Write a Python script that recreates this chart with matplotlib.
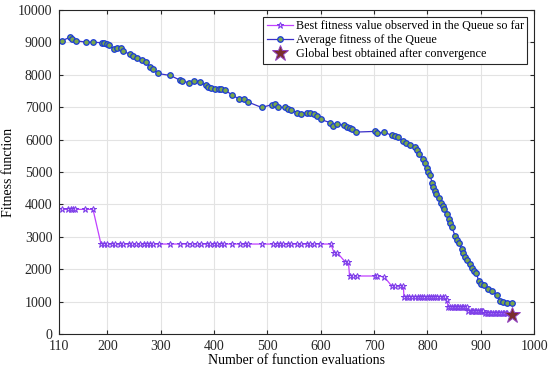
import matplotlib
matplotlib.use('Agg')
import matplotlib.pyplot as plt

# Average fitness of the queue
avg_x = [114, 129, 134, 141, 160, 173, 189, 194, 199, 203, 212, 218, 225, 229, 243, 248,
         256, 264, 273, 279, 286, 294, 318, 336, 339, 353, 363, 374, 385, 389, 395, 401,
         409, 413, 421, 433, 446, 456, 464, 489, 508, 514, 520, 533, 539, 545, 556, 563,
         574, 580, 588, 593, 600, 618, 623, 631, 644, 649, 654, 659, 666, 701, 706, 719,
         733, 740, 744, 755, 759, 768, 777, 780, 784, 791, 795, 799, 802, 805, 809, 811,
         814, 817, 821, 825, 830, 832, 836, 840, 842, 846, 852, 856, 860, 864, 867, 871,
         875, 879, 884, 887, 892, 896, 901, 906, 914, 922, 931, 936, 942, 950, 958]
avg_y = [9050, 9155, 9094, 9052, 9011, 9011, 8991, 8970, 8950, 8908, 8805, 8826, 8826, 8723, 8641, 8579,
         8517, 8456, 8394, 8250, 8188, 8044, 7982, 7838, 7818, 7756, 7818, 7777, 7674, 7612, 7591, 7550,
         7550, 7550, 7530, 7386, 7262, 7262, 7160, 6995, 7077, 7098, 6995, 6995, 6954, 6913, 6830, 6789,
         6830, 6810, 6789, 6727, 6625, 6522, 6419, 6481, 6440, 6398, 6357, 6316, 6234, 6254, 6193, 6234,
         6131, 6110, 6069, 5946, 5905, 5822, 5760, 5678, 5555, 5411, 5267, 5123, 4999, 4917, 4650, 4526,
         4423, 4320, 4197, 4032, 3950, 3847, 3703, 3559, 3436, 3292, 3024, 2901, 2798, 2633, 2510, 2386,
         2284, 2160, 2037, 1934, 1893, 1625, 1543, 1502, 1399, 1317, 1214, 1029, 988, 967, 946]

# Best fitness value observed in the queue so far
best_x = [114, 127, 131, 135, 139, 158, 173,
          188, 194, 200, 208, 214, 224, 230, 241, 246, 254, 261, 268, 275, 280, 286, 296,
          318, 336, 349, 358, 368, 375, 386, 393, 400, 405, 413, 419, 433, 449, 458, 464,
          489, 511, 518, 524, 530, 538, 544, 555, 563, 574, 580, 588, 598, 619,
          625, 631, 646, 652,
          654, 660, 668, 702, 706, 719,
          733, 739, 749, 755,
          756, 761, 766, 771, 777, 782, 786, 790, 794, 799, 803, 806, 811, 815, 818, 824, 830, 833,
          836,
          839, 843, 846, 850, 852, 855, 858, 861, 864, 867, 870, 874,
          877, 881, 883, 886, 889, 892, 895, 898, 900, 903, 905,
          908, 911, 914, 917, 920, 923, 926, 929, 932, 935, 938, 941, 944, 947, 949]
best_y = [3847] * 7 + [2777] * 46 + [2510, 2510, 2222, 2222] + [1790] * 5 + [1769] \
    + [1481] * 4 + [1152] * 18 + [1049] + [843] * 12 + [720] * 11 + [638] * 15

# Global best after convergence
star_x = [958]
star_y = [590]

plt.rcParams['font.family'] = ['Liberation Serif', 'DejaVu Serif']

fig = plt.figure(figsize=(5.5, 3.74), dpi=100)
ax = fig.add_axes([0.108, 0.107, 0.863, 0.866])

ax.plot(best_x, best_y, color='#c040ff', linewidth=0.9, marker='*', markersize=5,
        markerfacecolor='#e6c8ff', markeredgecolor='#7a3ae8', markeredgewidth=0.7,
        label='Best fitness value observed in the Queue so far')
ax.plot(avg_x, avg_y, color='#3a2fc8', linewidth=0.9, marker='o', markersize=4,
        markerfacecolor='#78a84a', markeredgecolor='#1a3ad8', markeredgewidth=0.9,
        label='Average fitness of the Queue')
ax.plot(star_x, star_y, linestyle='none', marker='*', markersize=12,
        markerfacecolor='#7a2e2e', markeredgecolor='#9040c0', markeredgewidth=0.7,
        label='Global best obtained after convergence')

ax.set_xlim(110, 1000)
ax.set_ylim(0, 10000)
ax.set_xticks([110, 200, 300, 400, 500, 600, 700, 800, 900, 1000])
ax.set_yticks(range(0, 10001, 1000))
ax.tick_params(direction='in', top=True, right=True, labelsize=10, length=3,
               colors='#262626')
ax.tick_params(axis='x', pad=4)
ax.tick_params(axis='y', pad=5)
ax.grid(True, color='#e3e3e3', linewidth=0.8)
ax.set_axisbelow(True)
for s in ax.spines.values():
    s.set_color('#262626')
    s.set_linewidth(0.8)

ax.set_xlabel('Number of function evaluations', fontsize=10, labelpad=1)
ax.set_ylabel('Fitness function', fontsize=10, labelpad=2)

leg = ax.legend(loc='upper right', fontsize=8.7, fancybox=False, framealpha=1,
                edgecolor='#262626', handlelength=2.2, borderpad=0.3,
                labelspacing=0.15, handletextpad=0.2, borderaxespad=0.55)
leg.get_frame().set_linewidth(0.8)

plt.savefig('out.png', dpi=100)
plt.close()
